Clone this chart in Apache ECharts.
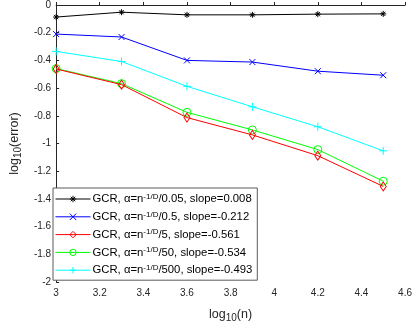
<!DOCTYPE html>
<html>
<head>
<meta charset="utf-8">
<script src="https://cdn.jsdelivr.net/npm/echarts@6/dist/echarts.min.js"></script>
<style>
html, body { margin: 0; padding: 0; background: #fff; }
#main { width: 415px; height: 328px; }
</style>
</head>
<body>
<div id="main"></div>
<script>
// log10(n) sample points
const logN = [3, 3.3, 3.6, 3.9, 4.2, 4.5];
// alpha divisors and fitted slopes (legend)
const alphas = ['0.05', '0.5', '5', '50', '500'];
const slopes = ['0.008', '-0.212', '-0.561', '-0.534', '-0.493'];
// log10(error) per series
const err005 = [-0.087, -0.052, -0.071, -0.071, -0.066, -0.064];
const err05 = [-0.21, -0.231, -0.40, -0.412, -0.478, -0.507];
const err5 = [-0.462, -0.575, -0.813, -0.938, -1.088, -1.31];
const err50 = [-0.459, -0.568, -0.775, -0.902, -1.044, -1.272];
const err500 = [-0.335, -0.408, -0.587, -0.735, -0.879, -1.053];

const colors = ['#000000', '#0000ff', '#ff0000', '#00ff00', '#00ffff'];
const star = 'path://M5,0L5,10M0,5L10,5M1.5,1.5L8.5,8.5M1.5,8.5L8.5,1.5';
const cross = 'path://M0,0L10,10M0,10L10,0';
const plus = 'path://M5,0L5,10M0,5L10,5';
const symbols = [star, cross, 'diamond', 'circle', plus];
const sizes = [6, 6, [6, 9], 8, 8];
const allErr = [err005, err05, err5, err50, err500];

const font = '"Liberation Sans", Arial, sans-serif';
const axisCol = '#262626';

const series = allErr.map((vals, i) => ({
  name: alphas[i],
  type: 'line',
  data: vals.map((v, k) => [logN[k], v]),
  symbol: symbols[i],
  symbolSize: sizes[i],
  showSymbol: true,
  color: colors[i],
  lineStyle: { color: colors[i], width: 1 },
  itemStyle: { color: 'rgba(0,0,0,0)', borderColor: colors[i], borderWidth: 1 },
  emphasis: { disabled: true },
  animation: false,
  z: 10 - i,
}));

const chart = echarts.init(document.getElementById('main'));
chart.setOption({
  backgroundColor: '#fff',
  animation: false,
  textStyle: { fontFamily: font },
  grid: { left: 45, right: 9, top: 5, bottom: 40 },
  xAxis: {
    type: 'value',
    min: 3, max: 4.6, interval: 0.2,
    name: 'log{sub|10}(n)',
    nameLocation: 'middle',
    nameGap: 24,
    nameTextStyle: {
      fontSize: 12.5, color: axisCol, fontFamily: font,
      rich: { sub: { fontSize: 10, verticalAlign: 'bottom', padding: [7, 0, 0, 0], color: axisCol, fontFamily: font } },
    },
    axisLine: { lineStyle: { color: axisCol, width: 1 } },
    axisTick: { inside: true, length: 3, lineStyle: { color: axisCol } },
    axisLabel: { fontSize: 10, color: axisCol, fontFamily: font, margin: 6 },
    splitLine: { show: false },
  },
  yAxis: {
    type: 'value',
    min: -2, max: 0, interval: 0.2,
    name: 'log{sub|10}(error)',
    nameLocation: 'middle',
    nameGap: 31,
    nameRotate: 90,
    nameTextStyle: {
      fontSize: 12.5, color: axisCol, fontFamily: font,
      rich: { sub: { fontSize: 10, verticalAlign: 'bottom', padding: [7, 0, 0, 0], color: axisCol, fontFamily: font } },
    },
    axisLine: { show: true, lineStyle: { color: axisCol, width: 1 } },
    axisTick: { show: true, inside: true, length: 3, lineStyle: { color: axisCol } },
    axisLabel: { fontSize: 10, color: axisCol, fontFamily: font, margin: 5 },
    splitLine: { show: false },
  },
  legend: {
    orient: 'vertical',
    left: 53,
    top: 188,
    padding: [4.5, 5, 3.5, 2],
    itemWidth: 35,
    itemHeight: 8,
    itemGap: 4.8,
    backgroundColor: '#fff',
    borderColor: '#5a5a5a',
    borderWidth: 1,
    borderRadius: 0,
    selectedMode: false,
    lineStyle: { width: 1 },
    itemStyle: { borderWidth: 1 },
    formatter: name => {
      const i = alphas.indexOf(name);
      return `GCR, \u03b1=n{sup|-1/D}/${alphas[i]}, slope=${slopes[i]}`;
    },
    textStyle: {
      fontSize: 11.3, color: '#000', fontFamily: font, lineHeight: 13, padding: [0, 0, 0, -3],
      rich: { sup: { fontSize: 8, verticalAlign: 'top', lineHeight: 13, color: '#000', fontFamily: font } },
    },
    data: alphas,
  },
  series: series,
});
</script>
</body>
</html>
